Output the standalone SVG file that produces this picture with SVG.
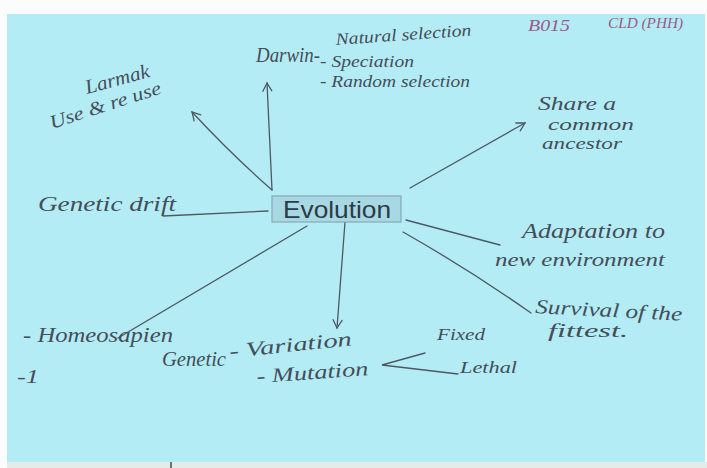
<svg xmlns="http://www.w3.org/2000/svg" width="707" height="468" viewBox="0 0 707 468">
  <defs>
    <style>
      .hw { font-family: "Liberation Serif", "DejaVu Serif", serif; font-style: italic; fill: #444e58; }
      .pink { font-family: "Liberation Serif", "DejaVu Serif", serif; font-style: italic; fill: #9a5a88; }
      .ln { fill: none; stroke: #4d5862; stroke-width: 1.3; stroke-linecap: round; }
      .box { fill: #a8d8e3; stroke: #86aab4; stroke-width: 1.2; }
      .title { font-family: "Liberation Sans", Arial, sans-serif; font-size: 24px; fill: #2b3c45; }
    </style>
    <marker id="arr" viewBox="-10 -6 12 12" markerWidth="12" markerHeight="12" refX="0" refY="0" orient="auto" markerUnits="userSpaceOnUse">
      <path d="M-8,-4.5 L0,0 L-8,4.5" fill="none" stroke="#4d5862" stroke-width="1.3" stroke-linecap="round"/>
    </marker>
  </defs>

  <!-- paper -->
  <rect x="0" y="0" width="707" height="468" fill="#fbfdfd"/>
  <rect x="7" y="14" width="698" height="449" fill="#b4ecf6"/>
  <rect x="7" y="462" width="700" height="6" fill="#e4ecea"/>
  <line x1="171" y1="462" x2="171" y2="468" stroke="#222" stroke-width="1.2"/>

  <g id="connectors">
    <path class="ln" d="M272,190 Q232,155 192,112" marker-end="url(#arr)"/>
    <path class="ln" d="M272,190 L267,83" marker-end="url(#arr)"/>
    <path class="ln" d="M268,211 L163,216"/>
    <path class="ln" d="M410,188 L525,123" marker-end="url(#arr)"/>
    <path class="ln" d="M406,220 L500,245"/>
    <path class="ln" d="M403,232 Q470,270 531,313"/>
    <path class="ln" d="M307,226 L118,338"/>
    <path class="ln" d="M345,222 L337,328" marker-end="url(#arr)"/>
    <path class="ln" d="M425,353 L382,365 L458,374"/>
  </g>

  <g id="evolution">
    <rect class="box" x="272" y="196" width="129" height="26"/>
    <text class="title" x="283" y="218" textLength="108" lengthAdjust="spacingAndGlyphs">Evolution</text>
  </g>

  <g id="lamarck">
    <text class="hw" font-size="20" transform="translate(87,94) rotate(-15)" textLength="66" lengthAdjust="spacingAndGlyphs">Larmak</text>
    <text class="hw" font-size="19" transform="translate(52,129) rotate(-18)" textLength="116" lengthAdjust="spacingAndGlyphs">Use &amp; re use</text>
  </g>

  <g id="darwin">
    <text class="hw" font-size="21" x="256" y="62" textLength="64" lengthAdjust="spacingAndGlyphs">Darwin-</text>
    <text class="hw" font-size="17" transform="translate(336,45) rotate(-4)" textLength="136" lengthAdjust="spacingAndGlyphs">Natural selection</text>
    <text class="hw" font-size="17" x="320" y="67" textLength="94" lengthAdjust="spacingAndGlyphs">- Speciation</text>
    <text class="hw" font-size="17" x="320" y="87" textLength="150" lengthAdjust="spacingAndGlyphs">- Random selection</text>
  </g>

  <g id="marks">
    <text class="pink" font-size="16" x="528" y="31" textLength="42" lengthAdjust="spacingAndGlyphs">B015</text>
    <text class="pink" font-size="14" x="608" y="28" textLength="75" lengthAdjust="spacingAndGlyphs">CLD (PHH)</text>
  </g>

  <g id="ancestor">
    <text class="hw" font-size="19" x="538" y="110" textLength="78" lengthAdjust="spacingAndGlyphs">Share a</text>
    <text class="hw" font-size="16" x="548" y="130" textLength="86" lengthAdjust="spacingAndGlyphs">common</text>
    <text class="hw" font-size="17" x="542" y="149" textLength="80" lengthAdjust="spacingAndGlyphs">ancestor</text>
  </g>

  <g id="drift">
    <text class="hw" font-size="22" x="38" y="211" textLength="138" lengthAdjust="spacingAndGlyphs">Genetic drift</text>
  </g>

  <g id="adaptation">
    <text class="hw" font-size="20" x="522" y="238" textLength="143" lengthAdjust="spacingAndGlyphs">Adaptation to</text>
    <text class="hw" font-size="18" x="495" y="266" textLength="170" lengthAdjust="spacingAndGlyphs">new environment</text>
  </g>

  <g id="survival">
    <text class="hw" font-size="20" transform="translate(535,313) rotate(3)" textLength="147" lengthAdjust="spacingAndGlyphs">Survival of the</text>
    <text class="hw" font-size="18" x="548" y="337" textLength="80" lengthAdjust="spacingAndGlyphs">fittest.</text>
  </g>

  <g id="homeosapien">
    <text class="hw" font-size="20" x="23" y="342" textLength="150" lengthAdjust="spacingAndGlyphs">- Homeosapien</text>
    <text class="hw" font-size="18" x="17" y="383" textLength="22" lengthAdjust="spacingAndGlyphs">-1</text>
  </g>

  <g id="variation">
    <text class="hw" font-size="21" x="162" y="366" textLength="64" lengthAdjust="spacingAndGlyphs">Genetic</text>
    <text class="hw" font-size="20" transform="translate(230,358) rotate(-6)" textLength="123" lengthAdjust="spacingAndGlyphs">- Variation</text>
    <text class="hw" font-size="20" transform="translate(257,383) rotate(-4)" textLength="112" lengthAdjust="spacingAndGlyphs">- Mutation</text>
  </g>

  <g id="fixed-lethal">
    <text class="hw" font-size="17" x="437" y="340" textLength="48" lengthAdjust="spacingAndGlyphs">Fixed</text>
    <text class="hw" font-size="17" x="460" y="373" textLength="57" lengthAdjust="spacingAndGlyphs">Lethal</text>
  </g>
</svg>
